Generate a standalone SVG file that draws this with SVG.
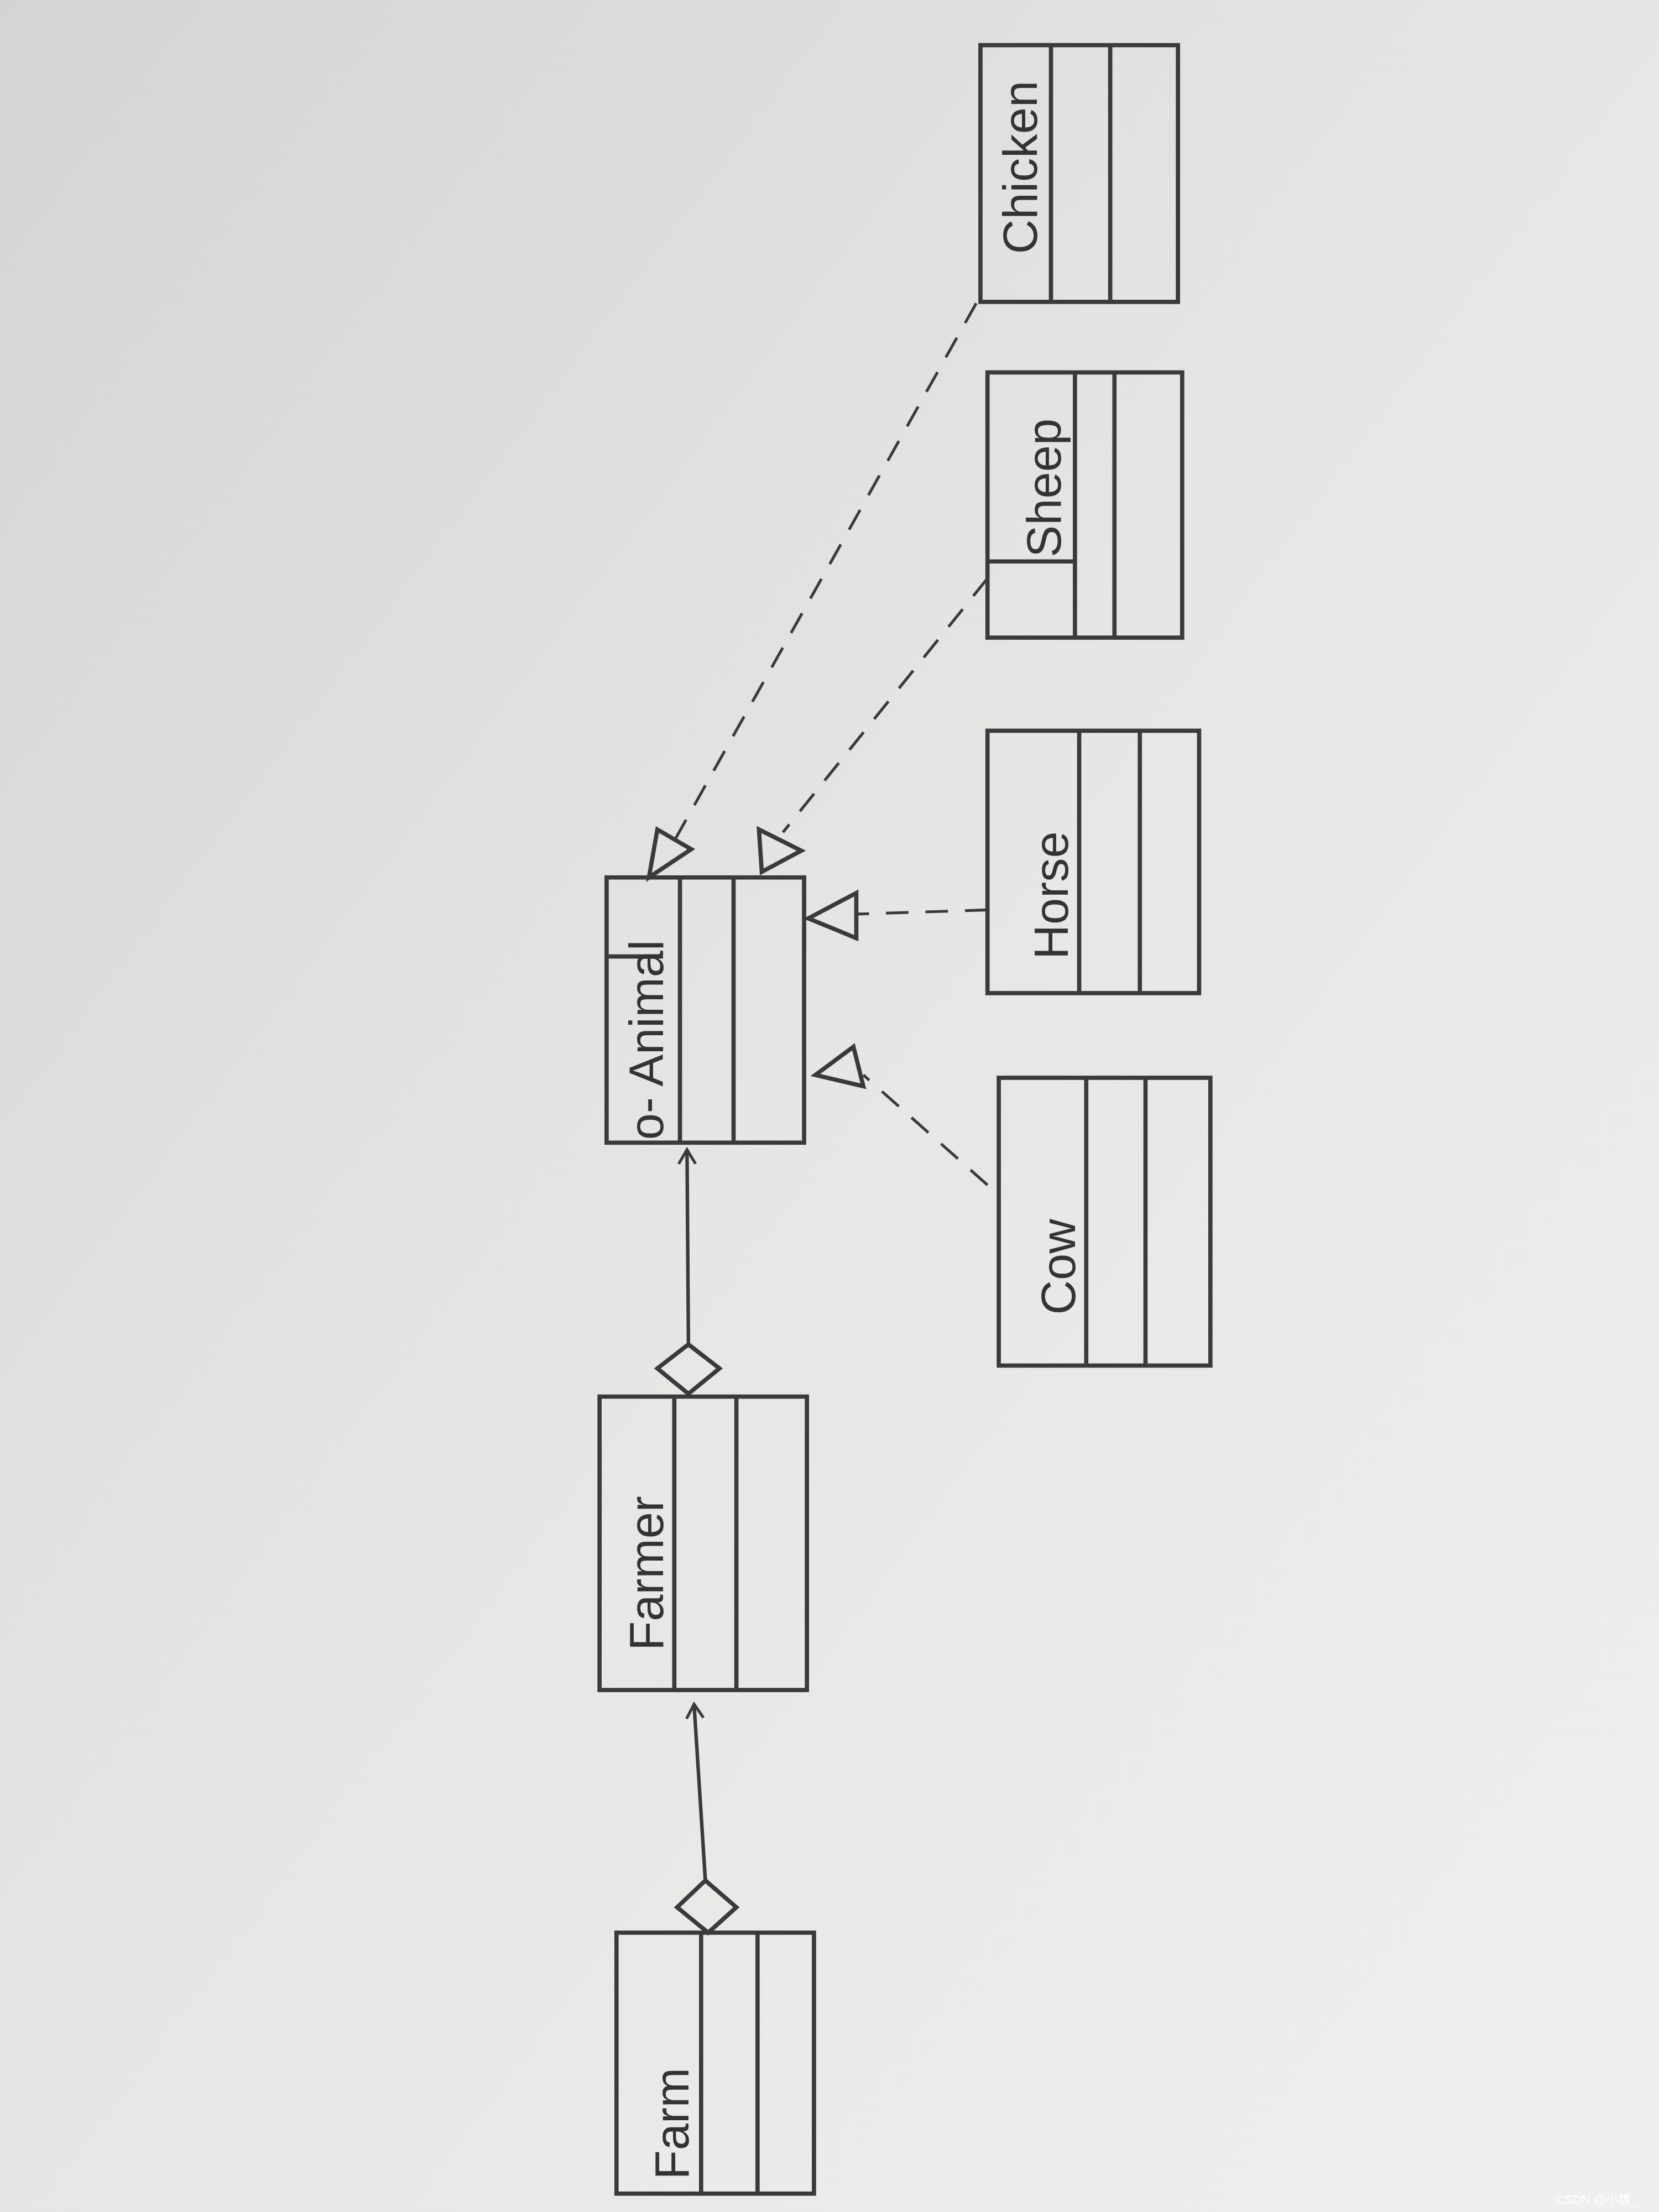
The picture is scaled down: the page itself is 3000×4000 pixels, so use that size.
<svg xmlns="http://www.w3.org/2000/svg" width="3000" height="4000" viewBox="0 0 3000 4000">
<defs>
<linearGradient id="bg" x1="0" y1="0" x2="1" y2="1"><stop offset="0" stop-color="#d4d4d2"/><stop offset="0.5" stop-color="#e6e6e4"/><stop offset="1" stop-color="#efefed"/></linearGradient>
<marker id="open" markerWidth="14" markerHeight="14" refX="12" refY="7" orient="auto" markerUnits="userSpaceOnUse"><path d="M2,1 L12,7 L2,13" fill="none" stroke="#3a3a3a" stroke-width="2"/></marker>
</defs>
<style>
.b{fill:none;stroke:#3a3a3a;stroke-width:3}
.l{fill:none;stroke:#3a3a3a;stroke-width:2.5}
.d{fill:none;stroke:#3a3a3a;stroke-width:2;stroke-dasharray:16 12}
.t{font-family:"Liberation Sans",sans-serif;font-size:34px;fill:#333}
</style>
<rect width="3000" height="4000" fill="url(#bg)"/>
<g transform="scale(2.551)">
<g id="chicken"><rect class="b" x="695" y="32" width="140" height="182"/><line class="b" x1="745" y1="32" x2="745" y2="214"/><line class="b" x1="787" y1="32" x2="787" y2="214"/><text class="t" transform="translate(735,180) rotate(-90)">Chicken</text></g>
<g id="sheep"><rect class="b" x="700" y="264" width="138" height="188"/><line class="b" x1="762" y1="264" x2="762" y2="452"/><line class="b" x1="790" y1="264" x2="790" y2="452"/><line class="b" x1="700" y1="398" x2="762" y2="398"/><text class="t" transform="translate(752,395) rotate(-90)">Sheep</text></g>
<g id="horse"><rect class="b" x="700" y="518" width="150" height="186"/><line class="b" x1="765" y1="518" x2="765" y2="704"/><line class="b" x1="808" y1="518" x2="808" y2="704"/><text class="t" transform="translate(757,680) rotate(-90)">Horse</text></g>
<g id="cow"><rect class="b" x="708" y="764" width="150" height="204"/><line class="b" x1="770" y1="764" x2="770" y2="968"/><line class="b" x1="812" y1="764" x2="812" y2="968"/><text class="t" transform="translate(762,932) rotate(-90)">Cow</text></g>
<g id="animal"><rect class="b" x="430" y="622" width="140" height="188"/><line class="b" x1="482" y1="622" x2="482" y2="810"/><line class="b" x1="520" y1="622" x2="520" y2="810"/><line class="b" x1="430" y1="678" x2="470" y2="678"/><text class="t" transform="translate(470,808) rotate(-90)">o- Animal</text></g>
<g id="farmer"><rect class="b" x="425" y="990" width="147" height="208"/><line class="b" x1="478" y1="990" x2="478" y2="1198"/><line class="b" x1="522" y1="990" x2="522" y2="1198"/><text class="t" transform="translate(470,1170) rotate(-90)">Farmer</text></g>
<g id="farm"><rect class="b" x="437" y="1370" width="140" height="185"/><line class="b" x1="497" y1="1370" x2="497" y2="1555"/><line class="b" x1="537" y1="1370" x2="537" y2="1555"/><text class="t" transform="translate(488,1545) rotate(-90)">Farm</text></g>
<g id="connectors">
<path class="b" d="M500,1333 L522,1352 L502,1370 L480,1352 Z"/>
<line class="l" x1="500" y1="1333" x2="492" y2="1208" marker-end="url(#open)"/>
<path class="b" d="M488,953 L510,970 L488,988 L466,970 Z"/>
<line class="l" x1="488" y1="953" x2="487" y2="815" marker-end="url(#open)"/>
<line class="d" x1="692" y1="215" x2="478" y2="596"/>
<path class="b" d="M466,588 L490,602 L460,622 Z"/>
<line class="d" x1="700" y1="410" x2="555" y2="590"/>
<path class="b" d="M538,588 L568,603 L540,618 Z"/>
<line class="d" x1="700" y1="645" x2="607" y2="648"/>
<path class="b" d="M607,633 L607,665 L573,651 Z"/>
<line class="d" x1="700" y1="840" x2="612" y2="762"/>
<path class="b" d="M605,742 L612,770 L578,762 Z"/>
</g>
</g>
<text x="2960" y="3985" text-anchor="end" font-family="Liberation Sans,Noto Sans CJK SC,sans-serif" font-size="22" fill="#fff">CSDN @小魏_</text>
</svg>
